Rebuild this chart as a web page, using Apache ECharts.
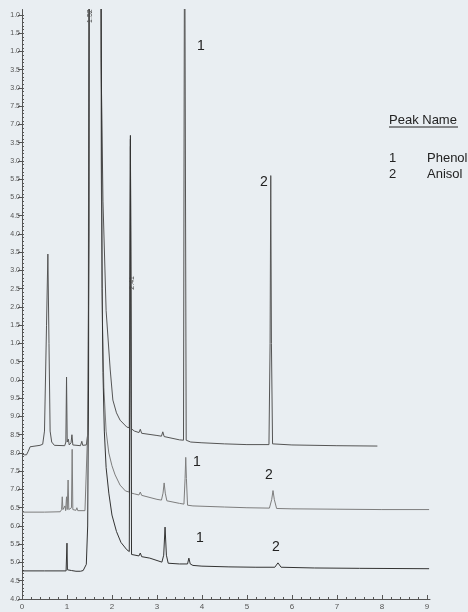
<!DOCTYPE html>
<html>
<head>
<meta charset="utf-8">
<script src="https://cdn.jsdelivr.net/npm/echarts@6/dist/echarts.min.js"></script>
<style>
  html, body { margin: 0; padding: 0; background: #e9eef2; }
  #chart { width: 468px; height: 612px; }
</style>
</head>
<body>
<div id="chart"></div>
<script>
// Retention-time axis (minutes) and signal axis ticks
const timeTicks = [0, 1, 2, 3, 4, 5, 6, 7, 8, 9];
const signalTicks = [];
for (let i = 0; i <= 32; i++) signalTicks.push(4 + i * 0.5);
const signalTickLabels = [
  '4.0', '4.5', '5.0', '5.5', '6.0', '6.5', '7.0', '7.5', '8.0', '8.5', '9.0', '9.5',
  '0.0', '0.5', '1.0', '1.5', '2.0', '2.5', '3.0', '3.5', '4.0', '4.5', '5.0', '5.5',
  '3.0', '3.5', '7.0', '7.5', '3.0', '3.5', '1.0', '1.5', '1.0'
];

// Peak table
const peakNumbers = ['1', '2'];
const peakNames = ['Phenol', 'Anisol'];

// Annotated retention times
const retentionTimes = [1.52, 2.41];

// Chromatogram traces: [time (min), signal]
const traceTop = [
  [0.00, 7.98], [0.05, 7.95], [0.10, 7.95], [0.14, 8.05], [0.18, 8.17], [0.22, 8.20],
  [0.40, 8.21], [0.46, 8.24], [0.50, 8.6], [0.545, 11.5], [0.575, 13.45], [0.60, 11.0],
  [0.625, 8.6], [0.66, 8.3], [0.72, 8.21], [0.95, 8.2], [0.975, 8.3], [0.99, 10.08],
  [1.005, 8.3], [1.03, 8.38], [1.05, 8.22], [1.09, 8.28], [1.11, 8.5], [1.13, 8.22],
  [1.30, 8.2], [1.33, 8.32], [1.35, 8.21], [1.43, 8.22], [1.46, 8.5], [1.49, 14],
  [1.51, 30], [1.74, 30], [1.757, 18.8], [1.80, 14.9], [1.87, 11.9], [1.96, 10.3],
  [2.02, 9.45], [2.10, 9.1], [2.18, 8.9], [2.33, 8.71], [2.385, 8.69], [2.41, 16.6],
  [2.435, 8.66], [2.50, 8.6], [2.60, 8.56], [2.63, 8.65], [2.66, 8.54], [3.00, 8.48],
  [3.10, 8.46], [3.13, 8.58], [3.16, 8.45], [3.50, 8.36], [3.59, 8.35], [3.615, 24],
  [3.625, 24], [3.65, 8.35], [3.75, 8.3], [4.00, 8.28], [4.50, 8.25], [5.00, 8.23],
  [5.49, 8.23], [5.515, 11], [5.53, 15.6], [5.545, 11], [5.57, 8.25], [6.00, 8.22],
  [7.00, 8.2], [7.90, 8.19]
];

const traceMiddle = [
  [0.00, 6.38], [0.50, 6.38], [0.85, 6.39], [0.88, 6.45], [0.895, 6.8], [0.91, 6.45],
  [0.94, 6.42], [0.955, 6.55], [0.97, 6.42], [0.99, 6.8], [1.005, 6.45], [1.025, 7.26],
  [1.04, 6.45], [1.06, 6.5], [1.08, 6.42], [1.10, 6.5], [1.115, 8.1], [1.13, 6.45],
  [1.20, 6.43], [1.22, 6.5], [1.24, 6.42], [1.40, 6.42], [1.44, 6.45], [1.47, 9],
  [1.50, 30], [1.74, 30], [1.76, 16], [1.79, 11.5], [1.82, 9.8], [1.87, 8.6],
  [1.93, 8.0], [2.00, 7.65], [2.07, 7.4], [2.18, 7.12], [2.30, 6.96], [2.385, 6.93],
  [2.41, 16.4], [2.435, 6.9], [2.50, 6.88], [2.60, 6.85], [2.63, 6.93], [2.66, 6.84],
  [3.00, 6.73], [3.10, 6.71], [3.135, 6.9], [3.16, 7.18], [3.185, 6.9], [3.22, 6.69],
  [3.50, 6.62], [3.60, 6.6], [3.625, 7.3], [3.64, 7.88], [3.655, 7.3], [3.68, 6.57],
  [3.80, 6.55], [4.50, 6.52], [5.00, 6.5], [5.50, 6.49], [5.55, 6.72], [5.58, 6.97],
  [5.61, 6.72], [5.66, 6.48], [6.00, 6.47], [7.00, 6.46], [8.00, 6.45], [9.05, 6.45]
];

const traceBottom = [
  [0.00, 4.77], [0.50, 4.77], [0.98, 4.77], [0.99, 4.8], [1.00, 5.53], [1.01, 4.8],
  [1.03, 4.77], [1.10, 4.78], [1.12, 4.82], [1.14, 4.77], [1.20, 4.76], [1.30, 4.76],
  [1.36, 4.78], [1.40, 4.82], [1.43, 4.95], [1.46, 6], [1.48, 10], [1.50, 30],
  [1.74, 30], [1.78, 12.5], [1.80, 10.2], [1.83, 8.6], [1.87, 7.6], [1.93, 6.9],
  [2.00, 6.3], [2.10, 5.85], [2.20, 5.55], [2.33, 5.35], [2.385, 5.3], [2.41, 16.7],
  [2.435, 5.22], [2.47, 5.2], [2.60, 5.18], [2.63, 5.26], [2.66, 5.16], [2.84, 5.12],
  [3.11, 5.01], [3.15, 5.2], [3.18, 5.97], [3.21, 5.2], [3.25, 4.98], [3.50, 4.96],
  [3.68, 4.96], [3.71, 5.12], [3.74, 4.96], [3.80, 4.92], [4.00, 4.9], [4.60, 4.88],
  [5.20, 4.87], [5.62, 4.87], [5.69, 4.99], [5.76, 4.87], [6.50, 4.85], [7.50, 4.84],
  [9.05, 4.83]
];

const timeMax = 9.07;
const signalMin = 4;
const signalMax = 20.15;

const minorTime = [];
for (let i = 0; i <= 45; i++) minorTime.push(+(i * 0.2).toFixed(2));
const minorSignal = [];
for (let i = 0; i <= 160; i++) minorSignal.push(+(4 + i * 0.1).toFixed(2));

const axisColor = '#555';
const tickFont = { fontFamily: 'Liberation Sans, Arial, sans-serif', color: '#555' };

const chart = echarts.init(document.getElementById('chart'), null, { renderer: 'canvas' });

function traceSeries(name, data, color) {
  return {
    name: name,
    type: 'line',
    data: data,
    showSymbol: false,
    symbol: 'none',
    silent: true,
    clip: true,
    lineStyle: { width: 1, color: color },
    xAxisIndex: 0,
    yAxisIndex: 0
  };
}

const option = {
  backgroundColor: '#e9eef2',
  animation: false,
  grid: { left: 22, right: 38, top: 9.5, bottom: 13, containLabel: false },
  xAxis: [
    {
      type: 'value', min: 0, max: timeMax,
      axisLine: { show: true, lineStyle: { color: axisColor, width: 1 } },
      axisTick: { show: true, inside: true, length: 4, customValues: timeTicks, lineStyle: { color: axisColor } },
      axisLabel: { customValues: timeTicks, fontSize: 8, margin: 4, ...tickFont },
      splitLine: { show: false }
    },
    {
      type: 'value', min: 0, max: timeMax, position: 'bottom',
      axisLine: { show: false },
      axisTick: { show: true, inside: true, length: 2, customValues: minorTime, lineStyle: { color: axisColor } },
      axisLabel: { show: false },
      splitLine: { show: false }
    }
  ],
  yAxis: [
    {
      type: 'value', min: signalMin, max: signalMax,
      axisLine: { show: true, lineStyle: { color: axisColor, width: 1 } },
      axisTick: { show: true, length: 4, customValues: signalTicks, lineStyle: { color: axisColor } },
      axisLabel: {
        customValues: signalTicks, fontSize: 7, margin: 2, ...tickFont,
        formatter: function (v) {
          const i = Math.round((v - signalMin) / 0.5);
          return signalTickLabels[i] || '';
        }
      },
      splitLine: { show: false }
    },
    {
      type: 'value', min: signalMin, max: signalMax, position: 'left',
      axisLine: { show: false },
      axisTick: { show: true, inside: true, length: 2, customValues: minorSignal, lineStyle: { color: axisColor } },
      axisLabel: { show: false },
      splitLine: { show: false }
    }
  ],
  series: [
    traceSeries('top', traceTop, '#555'),
    traceSeries('middle', traceMiddle, '#7d7d7d'),
    traceSeries('bottom', traceBottom, '#333')
  ]
};

chart.setOption(option);

// Text annotations: peak numbers, retention times and the peak table
const labelFont = 'Liberation Sans, Arial, sans-serif';
const graphics = [];

function addText(x, y, text, size, extra) {
  graphics.push(Object.assign({
    type: 'text', x: x, y: y, silent: true,
    style: {
      text: text, fill: '#222', font: size + 'px ' + labelFont,
      textAlign: 'center', textVerticalAlign: 'middle'
    }
  }, extra || {}));
}

// Peak numbers beside each chromatogram
addText(201, 46, peakNumbers[0], 14);
addText(264, 182, peakNumbers[1], 14);
addText(197, 462, peakNumbers[0], 14);
addText(269, 475, peakNumbers[1], 14);
addText(200, 538, peakNumbers[0], 14);
addText(276, 547, peakNumbers[1], 14);

// Rotated retention-time labels
const rtLevels = [19.97, 12.66];
retentionTimes.forEach(function (rt, i) {
  const p = chart.convertToPixel({ gridIndex: 0 }, [rt, rtLevels[i]]);
  graphics.push({
    type: 'text', x: p[0] + (i === 0 ? -0.5 : 1.5), y: p[1], rotation: Math.PI / 2, silent: true,
    style: {
      text: rt.toFixed(2), fill: '#444', font: '7px ' + labelFont,
      textAlign: 'center', textVerticalAlign: 'middle'
    }
  });
});

// Peak table
graphics.push({
  type: 'text', x: 389, y: 120, silent: true,
  style: { text: 'Peak Name', fill: '#222', font: '13px ' + labelFont, textAlign: 'left', textVerticalAlign: 'middle' }
});
graphics.push({
  type: 'line', silent: true,
  shape: { x1: 389, y1: 127, x2: 458, y2: 127 },
  style: { stroke: '#222', lineWidth: 1 }
});
peakNumbers.forEach(function (n, i) {
  graphics.push({
    type: 'text', x: 389, y: 158 + i * 16, silent: true,
    style: { text: n, fill: '#222', font: '13px ' + labelFont, textAlign: 'left', textVerticalAlign: 'middle' }
  });
  graphics.push({
    type: 'text', x: 427, y: 158 + i * 16, silent: true,
    style: { text: peakNames[i], fill: '#222', font: '13px ' + labelFont, textAlign: 'left', textVerticalAlign: 'middle' }
  });
});

chart.setOption({ graphic: graphics });
</script>
</body>
</html>
